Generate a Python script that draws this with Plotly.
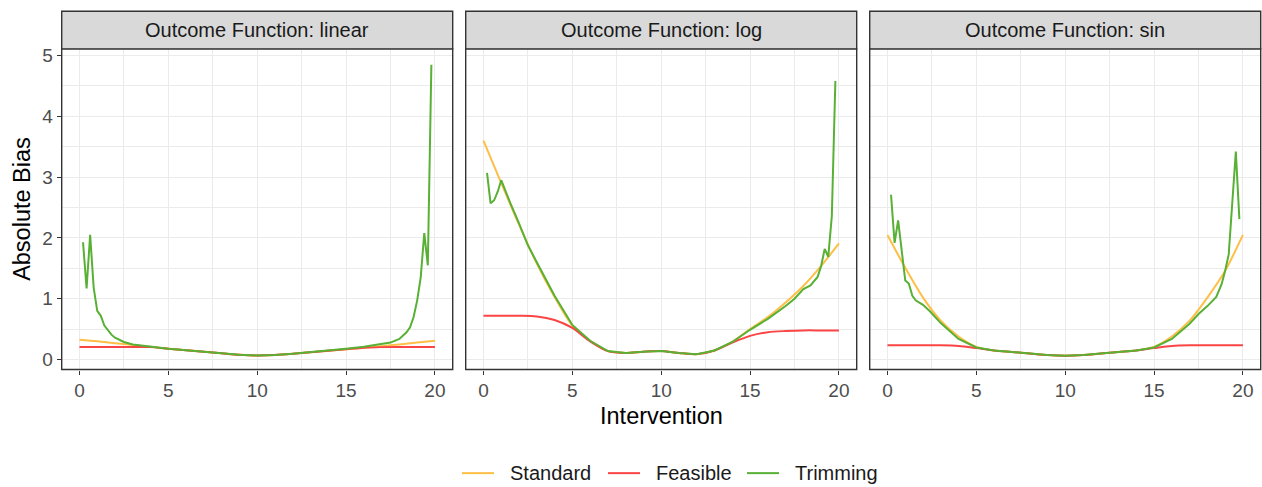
import plotly.graph_objects as go

# ---------------- data ----------------
x_grid = list(range(0, 21))

std_linear = [0.325, 0.30, 0.27, 0.24, 0.21, 0.18, 0.155, 0.13, 0.105, 0.08, 0.068,
              0.075, 0.095, 0.12, 0.145, 0.17, 0.195, 0.22, 0.25, 0.28, 0.31]
feas_linear = [0.207, 0.207, 0.207, 0.207, 0.205, 0.18, 0.155, 0.13, 0.105, 0.08, 0.068,
               0.075, 0.095, 0.12, 0.145, 0.17, 0.195, 0.205, 0.207, 0.207, 0.207]
trim_linear_x = [0.2, 0.4, 0.6, 0.8, 1.0, 1.2, 1.4, 1.6, 1.8, 2.0, 2.5, 3, 4, 5, 6, 7, 8, 9, 10,
                 11, 12, 13, 14, 15, 16, 17, 17.5, 18, 18.4, 18.6, 18.8, 19.0, 19.2, 19.4, 19.6, 19.8]
trim_linear = [1.93, 1.17, 2.05, 1.18, 0.80, 0.72, 0.56, 0.48, 0.41, 0.36, 0.29, 0.25, 0.21, 0.18,
               0.155, 0.13, 0.105, 0.08, 0.068, 0.075, 0.095, 0.12, 0.15, 0.18, 0.21, 0.25, 0.28,
               0.34, 0.45, 0.53, 0.70, 0.97, 1.35, 2.08, 1.55, 4.85]

std_log = [3.60, 2.90, 2.22, 1.58, 1.03, 0.56, 0.31, 0.14, 0.11, 0.13, 0.14,
           0.11, 0.09, 0.15, 0.29, 0.50, 0.70, 0.94, 1.21, 1.54, 1.91]
feas_log = [0.72, 0.72, 0.72, 0.71, 0.65, 0.52, 0.30, 0.14, 0.11, 0.13, 0.14,
            0.11, 0.09, 0.15, 0.28, 0.39, 0.45, 0.47, 0.48, 0.48, 0.48]
trim_log_x = [0.2, 0.4, 0.6, 0.8, 1.0, 1.2, 1.5, 2.0, 2.5, 3, 4, 5, 6, 7, 8, 9, 10, 11, 12, 13,
              14, 15, 16, 17, 17.5, 18, 18.4, 18.8, 19.0, 19.2, 19.4, 19.6, 19.8]
trim_log = [3.07, 2.57, 2.62, 2.76, 2.95, 2.80, 2.58, 2.24, 1.88, 1.60, 1.05, 0.57, 0.31, 0.14,
            0.11, 0.13, 0.14, 0.11, 0.09, 0.15, 0.29, 0.49, 0.67, 0.88, 1.00, 1.16, 1.22, 1.36,
            1.54, 1.82, 1.69, 2.36, 4.58]

std_sin = [2.05, 1.51, 1.02, 0.64, 0.38, 0.21, 0.15, 0.125, 0.10, 0.075, 0.065,
           0.075, 0.10, 0.125, 0.15, 0.21, 0.38, 0.64, 1.02, 1.46, 2.05]
feas_sin = [0.235, 0.235, 0.235, 0.235, 0.225, 0.19, 0.15, 0.125, 0.10, 0.075, 0.065,
            0.075, 0.10, 0.125, 0.15, 0.19, 0.225, 0.235, 0.235, 0.235, 0.235]
trim_sin_x = [0.2, 0.4, 0.6, 1.0, 1.2, 1.4, 1.6, 1.8, 2.0, 2.4, 3, 3.5, 4, 5, 6, 7, 8, 9, 10,
              11, 12, 13, 14, 15, 16, 17, 17.5, 18, 18.5, 18.8, 19.0, 19.2, 19.4, 19.6, 19.8]
trim_sin = [2.71, 1.92, 2.29, 1.30, 1.25, 1.05, 0.97, 0.94, 0.90, 0.79, 0.60, 0.47, 0.34, 0.20,
            0.15, 0.125, 0.10, 0.075, 0.065, 0.075, 0.10, 0.125, 0.15, 0.20, 0.34, 0.59, 0.75,
            0.88, 1.03, 1.24, 1.46, 1.73, 2.54, 3.42, 2.31]

facet_labels = ["Outcome Function: linear", "Outcome Function: log", "Outcome Function: sin"]
series_names = ["Standard", "Feasible", "Trimming"]
x_ticks = [0, 5, 10, 15, 20]
y_ticks = [0, 1, 2, 3, 4, 5]

# ---------------- style ----------------
W, H = 1262, 487
FONT = "Liberation Sans, Arial, sans-serif"
colors = {"Standard": "#FDBF45", "Feasible": "#FB4545", "Trimming": "#58B035"}
panels_px = [(61.7, 452.7), (465.7, 856.7), (869.7, 1260.7)]
plot_top_px, plot_bot_px, strip_top_px = 45.3, 369.3, 7.3
x_range = [-1, 21]
y_range = [-0.163, 5.11]
legend_line_px = [(462, 494), (608, 640), (747, 779)]
legend_y_px = 474

def px2x(p):
    return p / W

def px2y(p):
    return 1 - p / H

fig = go.Figure()

panel_data = [
    (std_linear, feas_linear, trim_linear_x, trim_linear),
    (std_log, feas_log, trim_log_x, trim_log),
    (std_sin, feas_sin, trim_sin_x, trim_sin),
]

for i, (s, f, tx, t) in enumerate(panel_data):
    xa = "x" if i == 0 else f"x{i+1}"
    ya = "y" if i == 0 else f"y{i+1}"
    fig.add_trace(go.Scatter(x=x_grid, y=s, mode="lines", name="Standard", showlegend=False,
                             line=dict(color=colors["Standard"], width=2, shape="spline", smoothing=0.8),
                             xaxis=xa, yaxis=ya))
    fig.add_trace(go.Scatter(x=x_grid, y=f, mode="lines", name="Feasible", showlegend=False,
                             line=dict(color=colors["Feasible"], width=2, shape="spline", smoothing=0.8),
                             xaxis=xa, yaxis=ya))
    fig.add_trace(go.Scatter(x=tx, y=t, mode="lines", name="Trimming", showlegend=False,
                             line=dict(color=colors["Trimming"], width=2),
                             xaxis=xa, yaxis=ya))

tick_font = dict(family=FONT, size=19, color="#4D4D4D")
layout = dict(
    width=W, height=H,
    margin=dict(l=0, r=0, t=0, b=0),
    paper_bgcolor="white", plot_bgcolor="white",
    showlegend=False,
)

shapes = []
annotations = []
for i, (l, r) in enumerate(panels_px):
    sfx = "" if i == 0 else str(i + 1)
    xax = dict(domain=[px2x(l), px2x(r)], range=x_range, tickvals=x_ticks, ticks="outside",
               ticklen=4, tickwidth=1.4, tickcolor="#333333", tickfont=tick_font,
               showgrid=True, gridcolor="#EBEBEB", gridwidth=1.4, zeroline=False, showline=False,
               minor=dict(dtick=2.5, tick0=0, showgrid=True, gridcolor="#EBEBEB", gridwidth=0.7, ticks=""),
               anchor="y" + sfx, fixedrange=True)
    yax = dict(domain=[px2y(plot_bot_px), px2y(plot_top_px)], range=y_range, tickvals=y_ticks,
               showgrid=True, gridcolor="#EBEBEB", gridwidth=1.4, zeroline=False, showline=False,
               minor=dict(dtick=0.5, tick0=0, showgrid=True, gridcolor="#EBEBEB", gridwidth=0.7, ticks=""),
               anchor="x" + sfx, fixedrange=True)
    if i == 0:
        yax.update(ticks="outside", ticklen=4, tickwidth=1.4, tickcolor="#333333", tickfont=tick_font,
                   showticklabels=True)
    else:
        yax.update(ticks="", showticklabels=False)
    layout["xaxis" + sfx] = xax
    layout["yaxis" + sfx] = yax
    shapes.append(dict(type="rect", xref="paper", yref="paper", x0=px2x(l), x1=px2x(r),
                       y0=px2y(plot_bot_px), y1=px2y(plot_top_px),
                       line=dict(color="#333333", width=1.4), fillcolor="rgba(0,0,0,0)", layer="above"))
    shapes.append(dict(type="rect", xref="paper", yref="paper", x0=px2x(l), x1=px2x(r),
                       y0=px2y(plot_top_px), y1=px2y(strip_top_px),
                       line=dict(color="#333333", width=1.4), fillcolor="#D9D9D9", layer="above"))
    annotations.append(dict(text=facet_labels[i], xref="paper", yref="paper",
                            x=px2x((l + r) / 2), y=px2y((plot_top_px + strip_top_px) / 2),
                            xanchor="center", yanchor="middle", showarrow=False,
                            font=dict(family=FONT, size=20, color="#1A1A1A")))

# legend (drawn manually to match spacing)
for name, (x0, x1) in zip(series_names, legend_line_px):
    shapes.append(dict(type="line", xref="paper", yref="paper", x0=px2x(x0), x1=px2x(x1),
                       y0=px2y(legend_y_px), y1=px2y(legend_y_px),
                       line=dict(color=colors[name], width=2)))
    annotations.append(dict(text=name, xref="paper", yref="paper", x=px2x(x1 + 14), y=px2y(legend_y_px),
                            xanchor="left", yanchor="middle", showarrow=False,
                            font=dict(family=FONT, size=20, color="#1A1A1A")))

annotations.append(dict(text="Intervention", xref="paper", yref="paper", x=px2x(661), y=px2y(416),
                        xanchor="center", yanchor="middle", showarrow=False,
                        font=dict(family=FONT, size=23.5, color="black")))
annotations.append(dict(text="Absolute Bias", xref="paper", yref="paper", x=px2x(22), y=px2y(207),
                        xanchor="center", yanchor="middle", showarrow=False, textangle=-90,
                        font=dict(family=FONT, size=23.5, color="black")))

layout["shapes"] = shapes
layout["annotations"] = annotations
fig.update_layout(**layout)

fig.write_html("out.html")
